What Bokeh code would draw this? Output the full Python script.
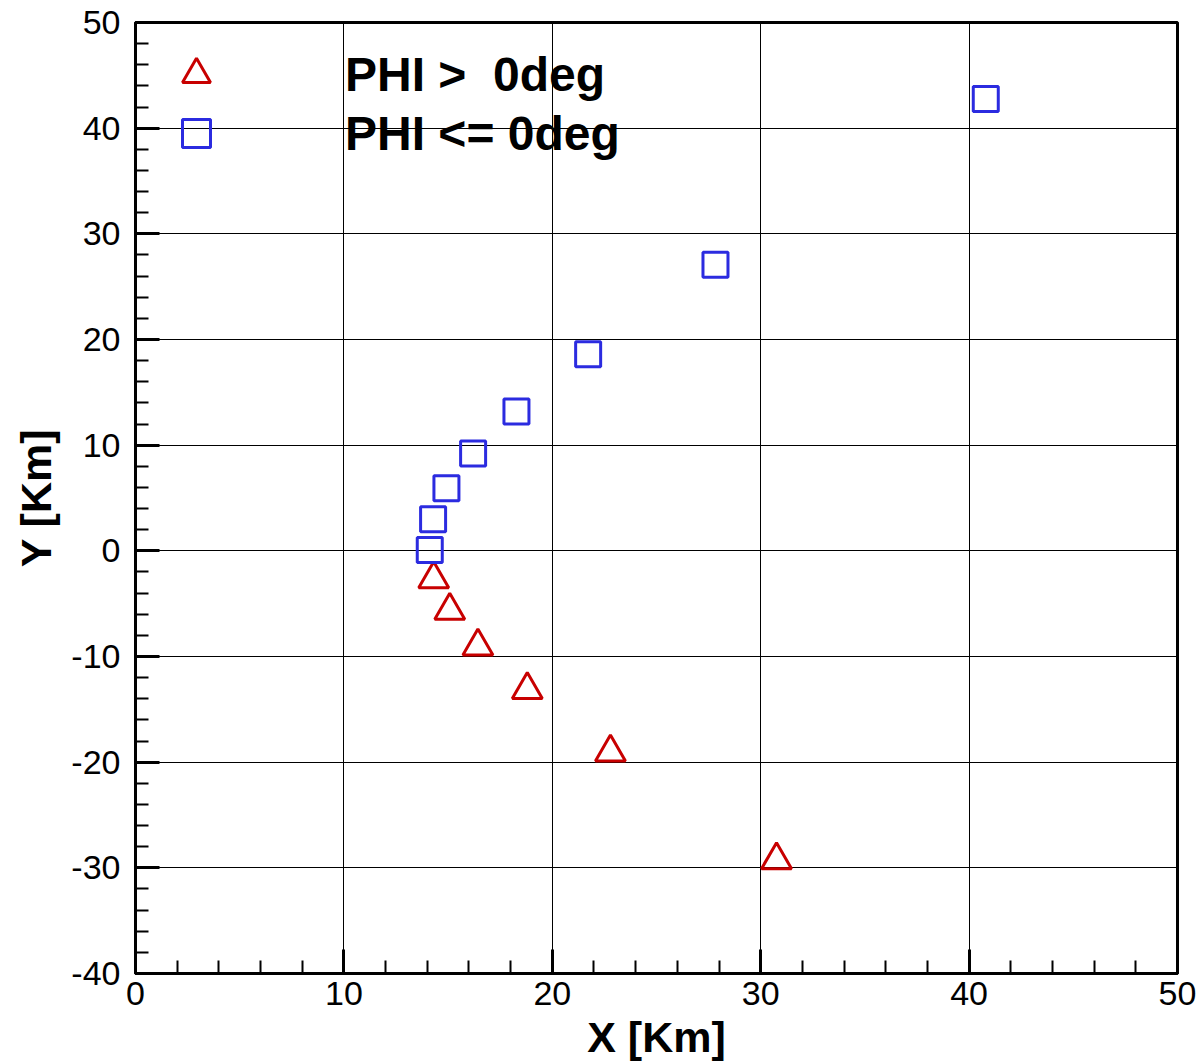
from bokeh.plotting import figure
from bokeh.models import Range1d, SingleIntervalTicker, Legend, LegendItem, CustomJSTickFormatter
from bokeh.embed import file_html
from bokeh.resources import INLINE

# Data
phi_pos_x = [14.31, 15.08, 16.43, 18.80, 22.79, 30.76]
phi_pos_y = [-2.67, -5.65, -9.04, -13.16, -19.07, -29.26]
phi_neg_x = [14.12, 14.28, 14.92, 16.20, 18.28, 21.72, 27.83, 40.80]
phi_neg_y = [0.08, 2.98, 5.92, 9.20, 13.18, 18.61, 27.07, 42.77]

labels = ["PHI >  0deg", "PHI <= 0deg"]
x_title = "X [Km]"
y_title = "Y [Km]"

FONT = "Liberation Sans"
RED = "#c80000"
BLUE = "#2b2be0"

p = figure(width=1199, height=1063, output_backend="svg", toolbar_location=None,
           x_range=Range1d(0, 50), y_range=Range1d(-40, 50),
           min_border_left=135, min_border_right=22, min_border_top=22, min_border_bottom=90)

p.background_fill_color = "white"
p.border_fill_color = "white"
p.outline_line_color = "black"
p.outline_line_width = 3

for ax, title in ((p.xaxis[0], x_title), (p.yaxis[0], y_title)):
    ax.ticker = SingleIntervalTicker(interval=10, num_minor_ticks=5)
    ax.formatter = CustomJSTickFormatter(code="return tick.toFixed(0);")
    ax.axis_line_width = 3
    ax.axis_line_color = "black"
    ax.major_tick_in = 24
    ax.major_tick_out = 0
    ax.minor_tick_in = 13
    ax.minor_tick_out = 0
    ax.major_tick_line_width = 3
    ax.minor_tick_line_width = 2
    ax.major_tick_line_color = "black"
    ax.minor_tick_line_color = "black"
    ax.major_label_text_font = FONT
    ax.major_label_text_font_size = "34px"
    ax.major_label_text_color = "black"
    ax.axis_label = title
    ax.axis_label_text_font = FONT
    ax.axis_label_text_font_size = "43px"
    ax.axis_label_text_font_style = "bold"
    ax.axis_label_text_color = "black"

p.xaxis.major_label_standoff = 8
p.xaxis.axis_label_standoff = 5
p.yaxis.major_label_standoff = 15
p.yaxis.axis_label_standoff = 8

for g in (p.xgrid[0], p.ygrid[0]):
    g.grid_line_color = "black"
    g.grid_line_width = 1
    g.grid_line_alpha = 1.0
    g.ticker = SingleIntervalTicker(interval=10)

r_pos = p.scatter(phi_pos_x, phi_pos_y, marker="triangle", size=30,
                  fill_color=None, line_color=RED, line_width=3)
r_neg = p.scatter(phi_neg_x, phi_neg_y, marker="square", size=25,
                  fill_color=None, line_color=BLUE, line_width=3)

legend_style = dict(margin=0, padding=0, spacing=0,
                    glyph_width=98, glyph_height=70, label_standoff=100,
                    label_text_font=FONT, label_text_font_size="48px",
                    label_text_font_style="bold", label_text_color="black",
                    border_line_color=None, background_fill_alpha=0)

legend1 = Legend(items=[LegendItem(label=labels[0], renderers=[r_pos])],
                 location=(12, 864), **legend_style)
legend2 = Legend(items=[LegendItem(label=labels[1], renderers=[r_neg])],
                 location=(12, 805), **legend_style)
p.add_layout(legend1)
p.add_layout(legend2)

open("out.html", "w").write(file_html(p, INLINE))
